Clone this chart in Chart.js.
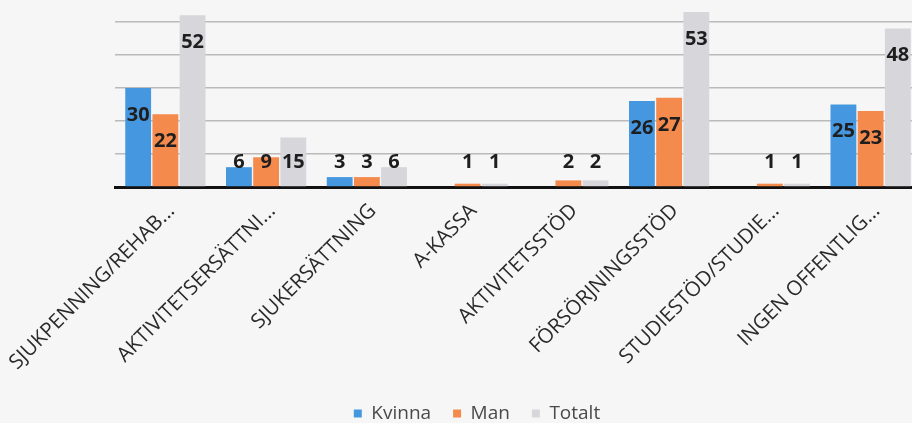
<!DOCTYPE html>
<html>
<head>
<meta charset="utf-8">
<script src="https://cdn.jsdelivr.net/npm/chart.js@4.4.1/dist/chart.umd.min.js"></script>
<style>
    html, body { margin: 0; padding: 0; overflow: hidden; background: #f6f6f7; }
    #wrap { position: absolute; left: 0; top: 0; width: 950px; height: 423px; }
</style>
</head>
<body>
<div id="wrap"><canvas id="chart"></canvas></div>
<script>
const categories = [
    'SJUKPENNING/REHAB...',
    'AKTIVITETSERSÄTTNI...',
    'SJUKERSÄTTNING',
    'A-KASSA',
    'AKTIVITETSSTÖD',
    'FÖRSÖRJNINGSSTÖD',
    'STUDIESTÖD/STUDIE...',
    'INGEN OFFENTLIG...'
];
const kvinna = [30, 6, 3, null, null, 26, null, 25];
const man = [22, 9, 3, 1, 2, 27, 1, 23];
const totalt = [52, 15, 6, 1, 2, 53, 1, 48];

const padBottom = -10;
const axisY = 187; // var x-axeln ligger i bilden

// värdeetiketter inne i staplarnas topp, som i Excel
const valueLabels = {
    id: 'valueLabels',
    afterDatasetsDraw(chart) {
        const ctx = chart.ctx;
        const base = chart.scales.y.getPixelForValue(0);
        ctx.save();
        ctx.font = 'bold 20px "Open Sans"';
        ctx.fillStyle = '#1e1e1e';
        ctx.textAlign = 'center';
        ctx.textBaseline = 'middle';
        chart.data.datasets.forEach((ds, i) => {
            chart.getDatasetMeta(i).data.forEach((bar, j) => {
                const v = ds.data[j];
                if (v === null) return;
                const y = Math.min(bar.y + 27, base - 25);
                ctx.fillText(String(v), bar.x, y);
            });
        });
        ctx.restore();
    }
};

new Chart(document.getElementById('chart'), {
    type: 'bar',
    data: {
        labels: categories,
        datasets: [
            { label: 'Kvinna', data: kvinna, backgroundColor: '#4598e0' },
            { label: 'Man', data: man, backgroundColor: '#f48a4c' },
            { label: 'Totalt', data: totalt, backgroundColor: '#d6d6db' }
        ]
    },
    options: {
        responsive: true,
        maintainAspectRatio: false,
        animation: false,
        categoryPercentage: 0.81,
        barPercentage: 0.95,
        layout: { padding: { left: 33, right: 29, top: 2, bottom: padBottom } },
        plugins: {
            tooltip: { enabled: false },
            legend: {
                position: 'bottom',
                labels: {
                    boxWidth: 8,
                    boxHeight: 8,
                    padding: 22,
                    color: '#4a4a4a',
                    font: { family: '"Open Sans"', size: 19 }
                }
            }
        },
        scales: {
            x: {
                grid: { display: false },
                border: { color: '#111', width: 3 },
                afterFit(scale) {
                    // etiketterna får sticka ut till vänster, som i originalet
                    scale.paddingLeft = 0;
                    const legendH = scale.chart.legend ? scale.chart.legend.height : 0;
                    scale.height = scale.chart.height - padBottom - legendH - axisY;
                },
                ticks: {
                    autoSkip: false,
                    minRotation: 45,
                    maxRotation: 45,
                    labelOffset: 6,
                    padding: 4,
                    color: '#2a2a2a',
                    font: { family: '"Open Sans"', size: 20.5 }
                }
            },
            y: {
                min: 0,
                max: 56,
                afterFit(scale) { scale.width = 82; },
                border: { display: false },
                ticks: { display: false, stepSize: 10 },
                grid: {
                    drawTicks: false,
                    lineWidth: 1.5,
                    color: c => (c.tick.value % 10 === 0 && c.tick.value > 0) ? '#bababa' : 'rgba(0,0,0,0)'
                }
            }
        }
    },
    plugins: [valueLabels]
});
</script>
</body>
</html>
